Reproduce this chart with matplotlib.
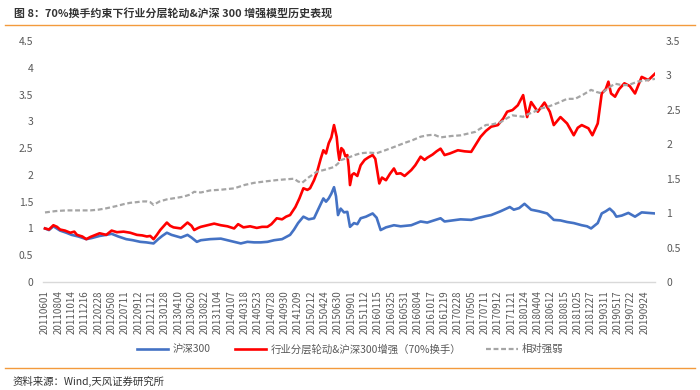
import numpy as np
import matplotlib
matplotlib.use("Agg")
import matplotlib.pyplot as plt
from matplotlib.lines import Line2D

plt.rcParams['font.family'] = ['Noto Sans CJK SC', 'DejaVu Sans']

tick_labels = ['20110601', '20110804', '20111014', '20111216', '20120228', '20120508',
               '20120711', '20120912', '20121121', '20130128', '20130410', '20130620',
               '20130822', '20131104', '20140107', '20140318', '20140523', '20140728',
               '20140930', '20141209', '20150212', '20150424', '20150630', '20150901',
               '20151112', '20160115', '20160325', '20160531', '20160804', '20161017',
               '20161219', '20170228', '20170505', '20170711', '20170912', '20171121',
               '20180124', '20180404', '20180612', '20180815', '20181025', '20181227',
               '20190311', '20190517', '20190722', '20190924']

# x in units of tick-label intervals (one interval ~ 45 trading days)
hs300_x = [0, 0.3, 0.63, 1.13, 1.6, 2.0, 2.5, 3.1, 3.5, 4.1, 4.6, 5.0, 5.5, 6.1, 6.6,
           7.15, 7.6, 8.15, 8.5, 8.8, 9.15, 9.5, 10.2, 10.7, 11.0, 11.4, 11.7, 12.4,
           13.2, 13.7, 14.2, 14.7, 15.2, 15.7, 16.2, 16.7, 17.2, 17.8, 18.4, 18.7, 19.0,
           19.4, 19.8, 20.2, 20.5, 20.9, 21.1, 21.3, 21.5, 21.7, 21.85, 22.0, 22.2,
           22.45, 22.7, 22.9, 23.2, 23.45, 23.7, 24.1, 24.6, 24.9, 25.2, 25.6, 26.2,
           26.7, 27.5, 28.2, 28.7, 29.2, 29.7, 30.0, 30.6, 31.2, 32.0, 32.6, 33.1, 33.5,
           34.2, 34.9, 35.2, 35.6, 36.0, 36.5, 37.1, 37.7, 38.2, 38.7, 39.2, 39.7, 40.3,
           40.7, 41.0, 41.5, 41.8, 42.1, 42.4, 42.7, 42.9, 43.3, 43.8, 44.3, 44.8, 45.3,
           45.8]
hs300 = [1.00, 0.97, 1.04, 0.96, 0.92, 0.88, 0.85, 0.80, 0.82, 0.86, 0.88, 0.90, 0.85,
         0.80, 0.78, 0.75, 0.74, 0.72, 0.80, 0.86, 0.92, 0.88, 0.83, 0.88, 0.83, 0.75,
         0.78, 0.80, 0.81, 0.78, 0.75, 0.72, 0.75, 0.74, 0.74, 0.75, 0.78, 0.80, 0.88,
         0.98, 1.10, 1.22, 1.17, 1.19, 1.35, 1.56, 1.50, 1.56, 1.65, 1.77, 1.60, 1.25,
         1.37, 1.30, 1.31, 1.03, 1.10, 1.08, 1.19, 1.22, 1.28, 1.20, 0.97, 1.02, 1.06,
         1.04, 1.06, 1.13, 1.11, 1.15, 1.19, 1.13, 1.15, 1.17, 1.16, 1.20, 1.23, 1.25,
         1.32, 1.40, 1.35, 1.38, 1.46, 1.35, 1.32, 1.28, 1.16, 1.15, 1.12, 1.10, 1.06,
         1.04, 1.00, 1.10, 1.28, 1.32, 1.37, 1.30, 1.22, 1.24, 1.29, 1.22, 1.30, 1.29,
         1.28]

model_x = [0, 0.3, 0.63, 0.9, 1.13, 1.5, 1.9, 2.2, 2.4, 2.8, 3.1, 3.4, 3.7, 4.1, 4.6,
           5.0, 5.4, 5.9, 6.4, 6.9, 7.3, 7.65, 7.9, 8.15, 8.4, 8.65, 9.15, 9.4, 9.65,
           10.2, 10.7, 11.0, 11.2, 11.5, 11.7, 12.2, 12.7, 13.2, 13.7, 14.2, 14.5, 14.9,
           15.4, 15.9, 16.3, 16.7, 17.0, 17.4, 17.8, 18.1, 18.4, 18.8, 19.1, 19.4, 19.7,
           19.9, 20.2, 20.4, 20.7, 20.9, 21.1, 21.3, 21.5, 21.7, 21.9, 22.0, 22.1, 22.25,
           22.4, 22.55, 22.7, 22.8, 22.9, 23.05, 23.2, 23.45, 23.7, 24.0, 24.3, 24.6,
           24.8, 25.0, 25.1, 25.3, 25.6, 25.9, 26.2, 26.4, 26.7, 27.0, 27.5, 27.8, 28.2,
           28.5, 28.7, 29.1, 29.4, 29.7, 30.0, 30.4, 31.0, 31.5, 32.0, 32.3, 32.7, 33.1,
           33.5, 34.0, 34.4, 34.7, 35.1, 35.5, 35.9, 36.2, 36.5, 37.0, 37.5, 37.9, 38.2,
           38.7, 39.2, 39.7, 40.0, 40.3, 40.8, 41.1, 41.5, 41.8, 42.1, 42.3, 42.5, 42.8,
           43.1, 43.5, 43.9, 44.3, 44.8, 45.3, 45.8]
model = [1.00, 0.98, 1.06, 1.03, 0.98, 0.96, 0.92, 0.94, 0.88, 0.85, 0.80, 0.84, 0.87,
         0.91, 0.88, 0.96, 0.93, 0.94, 0.92, 0.88, 0.87, 0.85, 0.86, 0.80, 0.88, 0.97,
         1.11, 1.05, 1.02, 1.00, 1.11, 1.05, 0.97, 1.01, 1.03, 1.06, 1.09, 1.06, 1.04,
         1.00, 1.08, 1.02, 1.04, 1.01, 1.03, 1.03, 1.08, 1.19, 1.17, 1.22, 1.25, 1.40,
         1.56, 1.75, 1.72, 1.75, 1.90, 2.03, 2.30, 2.46, 2.40, 2.59, 2.70, 2.93, 2.71,
         2.45, 2.28, 2.50, 2.46, 2.35, 2.37, 2.15, 1.81, 2.00, 2.03, 1.98, 2.18, 2.28,
         2.33, 2.37, 2.30, 2.00, 1.84, 1.95, 1.90, 2.02, 2.12, 2.02, 2.03, 1.98, 2.09,
         2.18, 2.34, 2.28, 2.32, 2.38, 2.44, 2.49, 2.37, 2.40, 2.46, 2.44, 2.43, 2.55,
         2.71, 2.82, 2.90, 2.93, 3.05, 3.18, 3.21, 3.30, 3.49, 3.08, 3.36, 3.18, 3.35,
         3.18, 2.93, 3.08, 2.96, 2.74, 2.88, 2.93, 2.87, 2.74, 2.96, 3.52, 3.60, 3.74,
         3.52, 3.46, 3.60, 3.71, 3.66, 3.52, 3.83, 3.77, 3.89]

rel_x = [0, 0.8, 1.6, 2.5, 3.4, 4.0, 4.6, 5.3, 5.9, 6.4, 6.9, 7.3, 7.65, 7.9, 8.15, 8.6,
         9.15, 9.8, 10.4, 10.9, 11.2, 11.7, 12.4, 13.2, 14.2, 15.0, 15.7, 16.5, 17.4,
         18.0, 18.7, 19.0, 19.3, 19.8, 20.4, 21.0, 21.7, 22.0, 22.2, 22.7, 23.2, 23.7,
         24.3, 24.9, 25.5, 26.2, 27.0, 27.6, 28.2, 28.7, 29.2, 29.7, 30.5, 31.2, 32.3,
         33.1, 33.6, 34.2, 34.7, 35.1, 35.9, 36.3, 36.7, 37.2, 37.7, 38.5, 39.2, 39.8,
         40.4, 41.0, 41.4, 41.8, 42.3, 42.8, 43.3, 43.8, 44.5, 45.2, 45.8]
rel = [1.01, 1.03, 1.04, 1.04, 1.04, 1.05, 1.07, 1.10, 1.13, 1.15, 1.16, 1.17, 1.17,
       1.16, 1.12, 1.17, 1.20, 1.22, 1.24, 1.27, 1.31, 1.30, 1.33, 1.34, 1.36, 1.41,
       1.44, 1.46, 1.48, 1.49, 1.50, 1.46, 1.44, 1.52, 1.60, 1.63, 1.67, 1.72, 1.77,
       1.80, 1.84, 1.87, 1.88, 1.87, 1.91, 1.96, 2.02, 2.06, 2.11, 2.13, 2.14, 2.10,
       2.12, 2.13, 2.18, 2.28, 2.29, 2.32, 2.38, 2.42, 2.40, 2.44, 2.47, 2.52, 2.54,
       2.60, 2.66, 2.66, 2.72, 2.79, 2.76, 2.74, 2.82, 2.88, 2.86, 2.86, 2.91, 2.93,
       2.95]

label_color = '#595959'

fig = plt.figure(figsize=(7, 3.9), dpi=100)
ax = fig.add_axes([43 / 700, 1 - 282 / 390, (655 - 43) / 700, (282 - 41) / 390])
ax2 = ax.twinx()

l1, = ax.plot(hs300_x, hs300, color='#4472C4', lw=1.9, label='沪深300')
l2, = ax.plot(model_x, model, color='#FF0000', lw=1.9, label='行业分层轮动&沪深300增强（70%换手）')
l3, = ax2.plot(rel_x, rel, color='#A5A5A5', lw=1.6, ls=(0, (2.2, 1.2)), label='相对强弱')

ax.set_xlim(-0.15, 45.8)
ax.set_ylim(0, 4.5)
ax2.set_ylim(0, 3.5)
ax.set_yticks(np.arange(0, 4.51, 0.5))
ax.set_yticklabels(['0', '0.5', '1', '1.5', '2', '2.5', '3', '3.5', '4', '4.5'])
ax2.set_yticks(np.arange(0, 3.51, 0.5))
ax2.set_yticklabels(['0', '0.5', '1', '1.5', '2', '2.5', '3', '3.5'])
ax.set_xticks(range(len(tick_labels)))
ax.set_xticklabels(tick_labels, rotation=90)

for a in (ax, ax2):
    for s in a.spines.values():
        s.set_visible(False)
ax.spines['bottom'].set_visible(True)
ax.spines['bottom'].set_color('#D9D9D9')
ax.spines['bottom'].set_linewidth(1.0)

ax.tick_params(axis='x', length=0, pad=6, labelsize=7, labelcolor=label_color)
ax.tick_params(axis='y', length=0, pad=7, labelsize=7.5, labelcolor=label_color)
ax2.tick_params(axis='y', length=0, pad=8, labelsize=7.5, labelcolor=label_color)

fig.legend(handles=[l1, l2, l3], loc='center', bbox_to_anchor=(0.5, 1 - 349 / 390),
           ncol=3, frameon=False, fontsize=7.5, handlelength=3.0, columnspacing=2.4,
           handletextpad=0.4, labelcolor=label_color)

fig.text(14 / 700, 1 - 13 / 390, '图 8：70%换手约束下行业分层轮动&沪深 300 增强模型历史表现',
         fontsize=7.9, fontweight='bold', color='#333333', va='center', ha='left')
fig.text(13 / 700, 1 - 381 / 390, '资料来源：Wind,天风证券研究所',
         fontsize=7.5, color='#333333', va='center', ha='left')

fig.add_artist(Line2D([5 / 700, 695 / 700], [1 - 25 / 390, 1 - 25 / 390],
                      color='#F39A3C', lw=1.0, transform=fig.transFigure))
fig.add_artist(Line2D([5 / 700, 695 / 700], [1 - 368 / 390, 1 - 368 / 390],
                      color='#F39A3C', lw=1.0, transform=fig.transFigure))

fig.savefig('out.png', dpi=100)
